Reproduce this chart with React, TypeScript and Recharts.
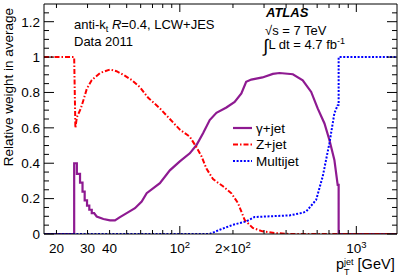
import React from 'react';
import { LineChart, Line, XAxis, YAxis, Legend } from 'recharts';

const FONT = '"Liberation Sans", Arial, Helvetica, sans-serif';

// gamma+jet
const gammaPt = [17, 25.2, 25.2, 26.1, 26.1, 27.2, 27.2, 28.1, 28.1, 28.9, 28.9, 29.8, 29.8, 30.7, 30.7, 31.7, 31.7, 32.7, 33.8, 36.9, 40.2, 42.9, 45.8, 50, 55.7, 60.8, 64.9, 77.1, 87.8, 100, 113.9, 124.3, 135.4, 147.7, 161.2, 183.6, 204.5, 223.2, 237.6, 254, 294, 336.6, 367, 437, 497, 555, 604, 660, 704, 751, 784, 794, 794, 1700];
const gammaWeight = [0, 0, 0.4, 0.4, 0.34, 0.34, 0.29, 0.29, 0.24, 0.24, 0.19, 0.19, 0.16, 0.16, 0.137, 0.137, 0.118, 0.118, 0.099, 0.085, 0.077, 0.077, 0.095, 0.118, 0.146, 0.184, 0.231, 0.287, 0.36, 0.41, 0.456, 0.503, 0.569, 0.644, 0.685, 0.715, 0.747, 0.794, 0.86, 0.873, 0.885, 0.905, 0.91, 0.903, 0.869, 0.803, 0.71, 0.625, 0.531, 0.419, 0.278, 0.278, 0, 0];

// Z+jet
const zPt = [17, 25.2, 25.6, 26.1, 27.5, 28.7, 29.7, 31.7, 35.3, 40.2, 43.8, 47.8, 53.4, 59.4, 66.2, 77.1, 87.8, 100, 113.9, 124.3, 132.6, 141.5, 154.2, 175.7, 196, 213.5, 232.9, 259, 294, 350, 420, 1700];
const zWeight = [1, 1, 0.6, 0.66, 0.71, 0.77, 0.82, 0.87, 0.91, 0.93, 0.92, 0.9, 0.87, 0.83, 0.77, 0.71, 0.65, 0.59, 0.55, 0.49, 0.44, 0.37, 0.31, 0.27, 0.23, 0.175, 0.08, 0.034, 0.015, 0.005, 0, 0];

// Multijet
const multiPt = [17, 147.7, 168.3, 200, 237.6, 265, 309, 418, 497, 520, 592, 645, 704, 751, 784, 794, 794, 1700];
const multiWeight = [0, 0, 0.024, 0.052, 0.071, 0.096, 0.099, 0.105, 0.12, 0.127, 0.193, 0.325, 0.513, 0.682, 0.728, 0.73, 1, 1];

const xTicks = [20, 30, 40, 50, 60, 70, 80, 90, 100, 200, 300, 400, 500, 600, 700, 800, 900, 1000];
const xMajor = [100, 1000];
const xLabelValues = [20, 30, 40, 100, 200, 1000];
const xLabelBase = ['20', '30', '40', '10', '2×10', '10'];
const xLabelExp = ['', '', '', '2', '2', '3'];

const yTicks = [0, 0.05, 0.1, 0.15, 0.2, 0.25, 0.3, 0.35, 0.4, 0.45, 0.5, 0.55, 0.6, 0.65, 0.7, 0.75, 0.8, 0.85, 0.9, 0.95, 1, 1.05, 1.1, 1.15, 1.2, 1.25];
const yLabelValues = [0, 0.2, 0.4, 0.6, 0.8, 1, 1.2];
const yLabelText = ['0', '0.2', '0.4', '0.6', '0.8', '1', '1.2'];

const seriesNames = ['γ+jet', 'Z+jet', 'Multijet'];
const seriesColors = ['#8e1a91', '#ff0000', '#0000ff'];
const seriesDash = [undefined, '5 2 1.5 2', '2 1.6'];
const seriesWidth = [2.2, 2, 2];

const zip = (xs: number[], ys: number[]) => xs.map((pt, i) => ({ pt, w: ys[i] }));
const gammaData = zip(gammaPt, gammaWeight);
const zData = zip(zPt, zWeight);
const multiData = zip(multiPt, multiWeight);

const near = (a: number, b: number) => Math.abs(a - b) < 1e-6;

const BottomTick = (props: any) => {
  const { x, y, payload } = props;
  const v = payload.value;
  const len = xMajor.some((m) => near(m, v)) ? 8 : 4;
  const idx = xLabelValues.findIndex((m) => near(m, v));
  return (
    <g>
      <line x1={x} x2={x} y1={y} y2={y - len} stroke="#000" strokeWidth={1} />
      {idx >= 0 && (
        <text x={x} y={y + 19} textAnchor="middle" fontSize={13.5} fontFamily={FONT} fill="#000">
          {xLabelBase[idx]}
          {xLabelExp[idx] ? <tspan dy={-5.5} fontSize={9.5}>{xLabelExp[idx]}</tspan> : null}
        </text>
      )}
    </g>
  );
};

const TopTick = (props: any) => {
  const { x, y, payload } = props;
  const v = payload.value;
  const len = xMajor.some((m) => near(m, v)) ? 8 : 4;
  return <line x1={x} x2={x} y1={y} y2={y + len} stroke="#000" strokeWidth={1} />;
};

const LeftTick = (props: any) => {
  const { x, y, payload } = props;
  const v = payload.value;
  const idx = yLabelValues.findIndex((m) => near(m, v));
  const len = idx >= 0 ? 10 : 5;
  return (
    <g>
      <line x1={x} x2={x + len} y1={y} y2={y} stroke="#000" strokeWidth={1} />
      {idx >= 0 && (
        <text x={x - 4} y={y} dy="0.36em" textAnchor="end" fontSize={13.5} fontFamily={FONT} fill="#000">
          {yLabelText[idx]}
        </text>
      )}
    </g>
  );
};

const RightTick = (props: any) => {
  const { x, y, payload } = props;
  const v = payload.value;
  const len = yLabelValues.some((m) => near(m, v)) ? 10 : 5;
  return <line x1={x} x2={x - len} y1={y} y2={y} stroke="#000" strokeWidth={1} />;
};

const renderLegend = () => (
  <svg width={90} height={56} style={{ display: 'block', overflow: 'visible' }}>
    {seriesNames.map((n, i) => (
      <g key={n}>
        <line
          x1={3}
          x2={22}
          y1={10 + i * 16.5}
          y2={10 + i * 16.5}
          stroke={seriesColors[i]}
          strokeWidth={seriesWidth[i]}
          strokeDasharray={seriesDash[i]}
        />
        <text x={26} y={10 + i * 16.5} dy="0.36em" fontSize={13.5} fontFamily={FONT} fill="#000">
          {n}
        </text>
      </g>
    ))}
  </svg>
);

const axisCommon = {
  tickSize: 0,
  tickMargin: 0,
  tickLine: false,
  interval: 0 as const,
  allowDataOverflow: true,
  axisLine: { stroke: '#000', strokeWidth: 1 },
};

export default function App() {
  return (
    <div style={{ position: 'absolute', left: 0, top: 0, width: 407, height: 276, background: '#fff' }}>
      <LineChart
        width={407}
        height={276}
        margin={{ top: 3, right: 9, bottom: 41, left: 43 }}
        style={{ fontFamily: FONT }}
      >
        <XAxis
          {...axisCommon}
          xAxisId="b"
          orientation="bottom"
          dataKey="pt"
          type="number"
          scale="log"
          domain={[17, 1700]}
          ticks={xTicks}
          height={1}
          tick={BottomTick}
        />
        <XAxis
          {...axisCommon}
          xAxisId="t"
          orientation="top"
          dataKey="pt"
          type="number"
          scale="log"
          domain={[17, 1700]}
          ticks={xTicks}
          height={1}
          tick={TopTick}
        />
        <YAxis
          {...axisCommon}
          yAxisId="l"
          orientation="left"
          type="number"
          domain={[0, 1.3]}
          ticks={yTicks}
          width={1}
          tick={LeftTick}
        />
        <YAxis
          {...axisCommon}
          yAxisId="r"
          orientation="right"
          type="number"
          domain={[0, 1.3]}
          ticks={yTicks}
          width={1}
          tick={RightTick}
        />
        <Line
          xAxisId="b"
          yAxisId="l"
          data={gammaData}
          dataKey="w"
          name={seriesNames[0]}
          stroke={seriesColors[0]}
          strokeWidth={seriesWidth[0]}
          dot={false}
          activeDot={false}
          type="linear"
          isAnimationActive={false}
        />
        <Line
          xAxisId="b"
          yAxisId="l"
          data={zData}
          dataKey="w"
          name={seriesNames[1]}
          stroke={seriesColors[1]}
          strokeWidth={seriesWidth[1]}
          strokeDasharray={seriesDash[1]}
          dot={false}
          activeDot={false}
          type="linear"
          isAnimationActive={false}
        />
        <Line
          xAxisId="b"
          yAxisId="l"
          data={multiData}
          dataKey="w"
          name={seriesNames[2]}
          stroke={seriesColors[2]}
          strokeWidth={seriesWidth[2]}
          strokeDasharray={seriesDash[2]}
          dot={false}
          activeDot={false}
          type="linear"
          isAnimationActive={false}
        />
        <Legend
          layout="vertical"
          align="center"
          verticalAlign="middle"
          content={renderLegend}
          wrapperStyle={{ position: 'absolute', left: 230, top: 118, width: 90, height: 56 }}
        />
      </LineChart>
      <svg
        width={407}
        height={276}
        style={{ position: 'absolute', left: 0, top: 0, pointerEvents: 'none' }}
        fontFamily={FONT}
      >
        <text x={74} y={28.5} fontSize={13} fill="#000">
          anti-k<tspan fontSize={9} dy={3}>t</tspan>
          <tspan dy={-3} fontStyle="italic"> R</tspan>
          <tspan>=0.4, LCW+JES</tspan>
        </text>
        <text x={74} y={46} fontSize={13} fill="#000">Data 2011</text>
        <text x={266} y={17.3} fontSize={13} fontWeight="bold" fontStyle="italic" fill="#000">ATLAS</text>
        <text x={265} y={35} fontSize={13} fill="#000">√s = 7 TeV</text>
        <text x={263.5} y={52} fontSize={18} fill="#000">∫</text>
        <text x={268.5} y={48.5} fontSize={13} fill="#000">
          L dt = 4.7 fb<tspan dy={-5} fontSize={9}>-1</tspan>
        </text>
        <text transform="rotate(-90)" x={-8} y={13} textAnchor="end" fontSize={13.5} fill="#000">
          Relative weight in average
        </text>
        <text x={336} y={268.5} fontSize={14.5} fill="#000">
          p<tspan fontSize={9} dy={-4}>jet</tspan>
          <tspan fontSize={9} dx={-9.5} dy={10.5}>T</tspan>
          <tspan fontSize={14.5} dx={8} dy={-6.5}>[GeV]</tspan>
        </text>
      </svg>
    </div>
  );
}
